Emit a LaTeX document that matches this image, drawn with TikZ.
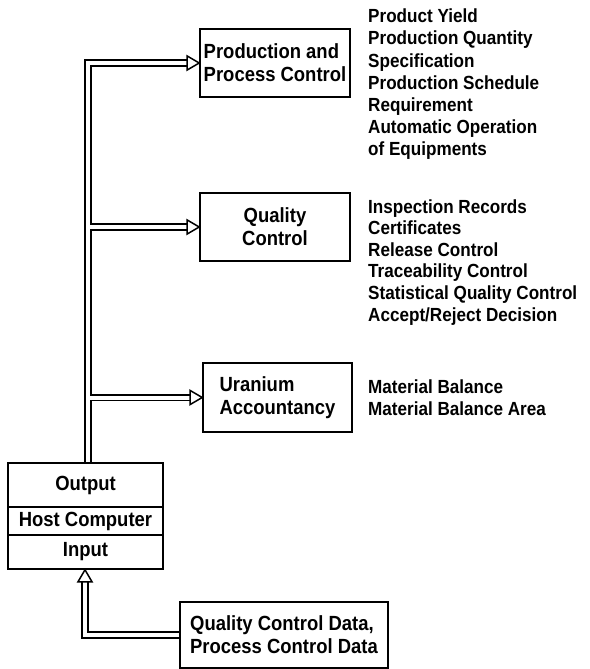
\documentclass[tikz,border=0pt]{standalone}
\usepackage{fontspec}
\newfontfamily\diafont{Liberation Sans}[FakeStretch=0.9]
\usetikzlibrary{calc}
\newcommand{\boxfont}{\diafont\bfseries\fontsize{20.5}{23}\selectfont}
\newcommand{\listfont}{\diafont\bfseries\fontsize{19}{22}\selectfont}
\begin{document}
\begin{tikzpicture}[x=1pt,y=-1pt,
  box/.style={draw, line width=1.6pt, inner sep=0pt, font=\boxfont},
  dbl/.style={draw, double, double distance=4pt, line width=1.6pt, line join=miter},
  ahead/.style={draw, line width=1.5pt, fill=white, line join=miter},
  item/.style={anchor=base west, inner sep=0pt, font=\listfont}]
\useasboundingbox (0,0) rectangle (589,669);

\node[box, align=left, minimum width=150pt, minimum height=68pt] (prod) at (275,63) {Production and\\Process Control};
\node[box, align=center, minimum width=150pt, minimum height=68pt] (qual) at (275,227) {Quality\\Control};
\node[box, align=left, minimum width=149pt, minimum height=69pt] (uran) at (277.5,397.5) {Uranium\\Accountancy};

\node[box, minimum width=155pt, minimum height=44pt] (out) at (85.5,485) {Output};
\node[box, minimum width=155pt, minimum height=28pt] (hc) at (85.5,521) {Host Computer};
\node[box, minimum width=155pt, minimum height=34pt] (inp) at (85.5,552) {Input};

\node[box, align=left, minimum width=208pt, minimum height=66pt] (qcd) at (284,635) {Quality Control Data,\\Process Control Data};

% trunk
\coordinate (tc) at (88,0);
\coordinate (trunk) at (90,0);
\coordinate (bot) at (85,0);
\coordinate (tbot) at (out.north -| tc);
\draw[dbl] (tbot) |- ($(prod.west)+(-12pt,0)$);
\draw[ahead] ($(prod.west)+(-12pt,7pt)$) -- (prod.west) -- ($(prod.west)+(-12pt,-7pt)$) -- cycle;

\draw[dbl] (qual.west -| trunk) -- ($(qual.west)+(-12pt,0)$);
\draw[ahead] ($(qual.west)+(-12pt,7pt)$) -- (qual.west) -- ($(qual.west)+(-12pt,-7pt)$) -- cycle;

\draw[dbl] (uran.west -| trunk) -- ($(uran.west)+(-12pt,0)$);
\draw[ahead] ($(uran.west)+(-12pt,7pt)$) -- (uran.west) -- ($(uran.west)+(-12pt,-7pt)$) -- cycle;

% input
\coordinate (tipb) at (inp.south -| bot);
\draw[dbl] (qcd.west) -| ($(tipb)+(0,-12pt)$);
\draw[ahead] ($(tipb)+(-7pt,-12pt)$) -- (tipb) -- ($(tipb)+(7pt,-12pt)$) -- cycle;

% lists
\foreach \t [count=\i] in {Product Yield, Production Quantity, Specification, Production Schedule, Requirement, Automatic Operation, of Equipments}
  \node[item] (pl\i) at (368,{23+22*(\i-1)}) {\t};
\foreach \t [count=\i] in {Inspection Records, Certificates, Release Control, Traceability Control, Statistical Quality Control, Accept/Reject Decision}
  \node[item] (ql\i) at (368,{213+21.6*(\i-1)}) {\t};
\foreach \t [count=\i] in {Material Balance, Material Balance Area}
  \node[item] (ul\i) at (368,{393+22*(\i-1)}) {\t};
\end{tikzpicture}
\end{document}
